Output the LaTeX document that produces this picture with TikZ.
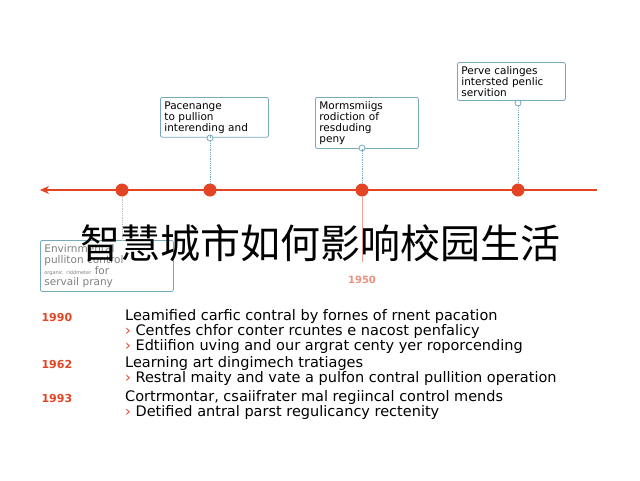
\documentclass[tikz,border=0pt]{standalone}
\usepackage{fontspec}
\setmainfont{DejaVu Sans}
\newfontfamily\cjk{Noto Sans CJK SC}
\usetikzlibrary{arrows.meta}
\definecolor{tred}{RGB}{226,68,36}
\definecolor{tblue}{RGB}{120,170,190}
\begin{document}
\begin{tikzpicture}[x=1pt,y=-1pt,
 box/.style={draw=tblue,rounded corners=2pt,line width=0.8pt,align=left,font=\fontsize{10.5}{11}\selectfont,inner sep=4pt,anchor=north west,fill=white},
 dot/.style={circle,fill=tred,minimum size=13pt,inner sep=0pt},
 ring/.style={circle,draw=tblue,fill=white,minimum size=6pt,inner sep=0pt,line width=0.8pt},
 yr/.style={text=tred,font=\bfseries\fontsize{11}{11}\selectfont,anchor=base west},
 it/.style={font=\fontsize{14.5}{13.8}\selectfont,anchor=north west,align=left,inner sep=0pt}]
\useasboundingbox (0,0) rectangle (640,480);
\fill[white] (0,0) rectangle (640,480);
\coordinate (L) at (40,190); \coordinate (R) at (597,190);
\draw[tred,line width=1.3pt,-{Stealth[length=9pt,width=8pt]}] (R) -- (L);
\node[dot] (d1) at (122,190) {};
\node[dot] (d2) at (210,190) {};
\node[dot] (d3) at (362,190) {};
\node[dot] (d4) at (518,190) {};
\node[box,text width=100pt] (b1) at (160,97) {Pacenange\\to pullion\\interending and};
\node[box,text width=95pt] (b2) at (315,97) {Mormsmiigs\\rodiction of\\resduding\\peny};
\node[box,text width=100pt] (b3) at (457,62) {Perve calinges\\intersted penlic\\servition};
\node[ring] (r1) at (210,138) {};
\node[ring] (r2) at (362,148) {};
\node[ring] (r3) at (518,103) {};
\draw[tblue,line width=0.8pt] (b1.south -| r1) -- (r1);
\draw[tblue,line width=0.8pt] (b2.south -| r2) -- (r2);
\draw[tblue,line width=0.8pt] (b3.south -| r3) -- (r3);
\draw[tblue,densely dotted,line width=0.8pt] (r1) -- (d2);
\draw[tblue,densely dotted,line width=0.8pt] (r2) -- (d3);
\draw[tblue,densely dotted,line width=0.8pt] (r3) -- (d4);
\node[box,text width=125pt,text=gray] (b4) at (40,240) {Envirnmental\\pulliton control\\{\tiny organic riddmeter} for\\servail prany};
\draw[gray!50,densely dotted,line width=0.8pt] (d1) -- (b4.north -| d1);
\coordinate (h) at (362,262);
\draw[tred!50,line width=1pt] (d3) -- (h);
\node[text=tred!60,font=\bfseries\fontsize{10}{10}\selectfont] (y50) at (362,280) {1950};
\node[yr] (y1) at (38,321) {1990};
\node[yr] (y2) at (38,368) {1962};
\node[yr] (y3) at (38,402) {1993};
\node[it] (t1) at (125,309) {Leamified carfic contral by fornes of rnent pacation\\
 \textcolor{tred}{›} Centfes chfor conter rcuntes e nacost penfalicy\\
 \textcolor{tred}{›} Edtiifion uving and our argrat centy yer roporcending};
\node[it] (t2) at (125,356) {Learning art dingimech tratiages\\
 \textcolor{tred}{›} Restral maity and vate a pulfon contral pullition operation};
\node[it] (t3) at (125,390) {Cortrmontar, csaiifrater mal regiincal control mends\\
 \textcolor{tred}{›} Detified antral parst regulicancy rectenity};
\node[font=\cjk\fontsize{40}{40}\selectfont,text=black] (title) at (320,243) {智慧城市如何影响校园生活};
\end{tikzpicture}
\end{document}
